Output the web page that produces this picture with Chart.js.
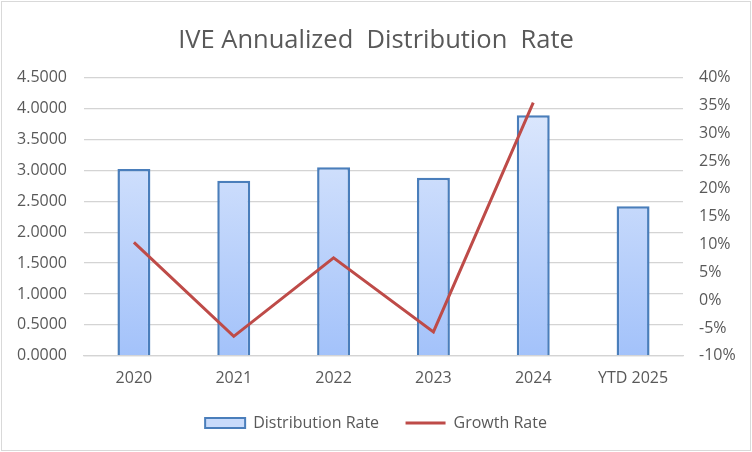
<!DOCTYPE html>
<html><head><meta charset="utf-8">
<script src="https://cdn.jsdelivr.net/npm/chart.js@4.4.1/dist/chart.umd.min.js"></script>
<style>html,body{margin:0;padding:0;background:#fff}#wrap{width:752px;height:452px}</style>
</head><body><div id="wrap"><canvas id="c" width="752" height="452"></canvas></div>
<script>
const categories = ['2020','2021','2022','2023','2024','YTD 2025'];
const distributionRate = [3.02, 2.83, 3.05, 2.88, 3.89, 2.42];
const growthRate = [10.4, -6.5, 7.6, -5.7, 35.5, null];
const leftTicks = [0,0.5,1,1.5,2,2.5,3,3.5,4,4.5];
const rightTicks = [-10,-5,0,5,10,15,20,25,30,35,40];

const FONT = 'Open Sans';
const GREY = '#595959';
Chart.defaults.font.family = FONT;
Chart.defaults.color = GREY;

const borderPlugin = {
  id: 'bg',
  beforeDraw(chart){
    const ctx = chart.ctx;
    ctx.save();
    ctx.fillStyle = '#fff';
    ctx.fillRect(0,0,chart.width,chart.height);
    ctx.strokeStyle = '#d9d9d9';
    ctx.lineWidth = 1;
    ctx.strokeRect(1.5,1.5,749,449);
    ctx.restore();
  }
};

function barGradient(context){
  const chart = context.chart;
  const area = chart.chartArea;
  if (!area) return '#c6d9fb';
  const g = chart.ctx.createLinearGradient(0, area.top, 0, area.bottom);
  g.addColorStop(0, '#e3ecfd');
  g.addColorStop(1, '#a3c2fa');
  return g;
}

new Chart(document.getElementById('c'), {
  type: 'bar',
  data: {
    labels: categories,
    datasets: [
      {
        type: 'bar', label: 'Distribution Rate', data: distributionRate,
        yAxisID: 'y', order: 1,
        backgroundColor: barGradient, borderColor: '#4a7ebb', borderWidth: 2.5,
        borderSkipped: 'bottom',
        categoryPercentage: 1, barPercentage: 0.33
      },
      {
        type: 'line', label: 'Growth Rate', data: growthRate,
        yAxisID: 'y1', order: 0,
        borderColor: '#be4b48', backgroundColor: '#be4b48', borderWidth: 3,
        pointRadius: 0, tension: 0, spanGaps: false
      }
    ]
  },
  options: {
    responsive: false, animation: false,
    devicePixelRatio: 1,
    layout: { padding: { left: 10, right: 10, top: 0, bottom: 11 } },
    plugins: {
      tooltip: { enabled: false },
      title: {
        display: true, text: 'IVE Annualized  Distribution  Rate',
        color: GREY, font: { size: 25.5, weight: 'normal', family: FONT },
        padding: { top: 25, bottom: 22 }
      },
      legend: {
        position: 'bottom',
        labels: {
          color: GREY, font: { size: 16, family: FONT },
          usePointStyle: true, pointStyleWidth: 40, boxHeight: 10, padding: 14,
          sort: (a,b) => a.datasetIndex - b.datasetIndex,
          generateLabels(chart){
            return chart.data.datasets.map((ds,i) => ({
              text: i===0 ? ds.label + '   ' : ds.label, datasetIndex: i,
              fillStyle: i===0 ? '#c9dbfb' : '#be4b48',
              strokeStyle: i===0 ? '#4a7ebb' : '#be4b48',
              lineWidth: i===0 ? 2 : 3,
              pointStyle: i===0 ? 'rect' : 'line',
              fontColor: GREY, hidden: false
            }));
          }
        }
      }
    },
    scales: {
      x: {
        grid: { display: false, drawTicks: false },
        border: { display: true, color: '#d4d4d4', width: 1.25 },
        ticks: { color: GREY, font: { size: 16 }, padding: 13 }
      },
      y: {
        position: 'left', min: 0, max: 4.5,
        afterBuildTicks(s){ s.ticks = leftTicks.map(v => ({value: v})); },
        afterFit(s){ s.width = 74; },
        grid: { color: '#d4d4d4', lineWidth: 1.25, drawTicks: false },
        border: { display: false },
        ticks: { color: GREY, font: { size: 16 }, padding: 17, callback: v => Number(v).toFixed(4) }
      },
      y1: {
        position: 'right', min: -10, max: 40,
        afterBuildTicks(s){ s.ticks = rightTicks.map(v => ({value: v})); },
        afterFit(s){ s.width = 59; },
        grid: { display: false, drawTicks: false },
        border: { display: false },
        ticks: { color: GREY, font: { size: 16 }, padding: 16, callback: v => v + '%' }
      }
    }
  },
  plugins: [borderPlugin]
});
</script></body></html>
